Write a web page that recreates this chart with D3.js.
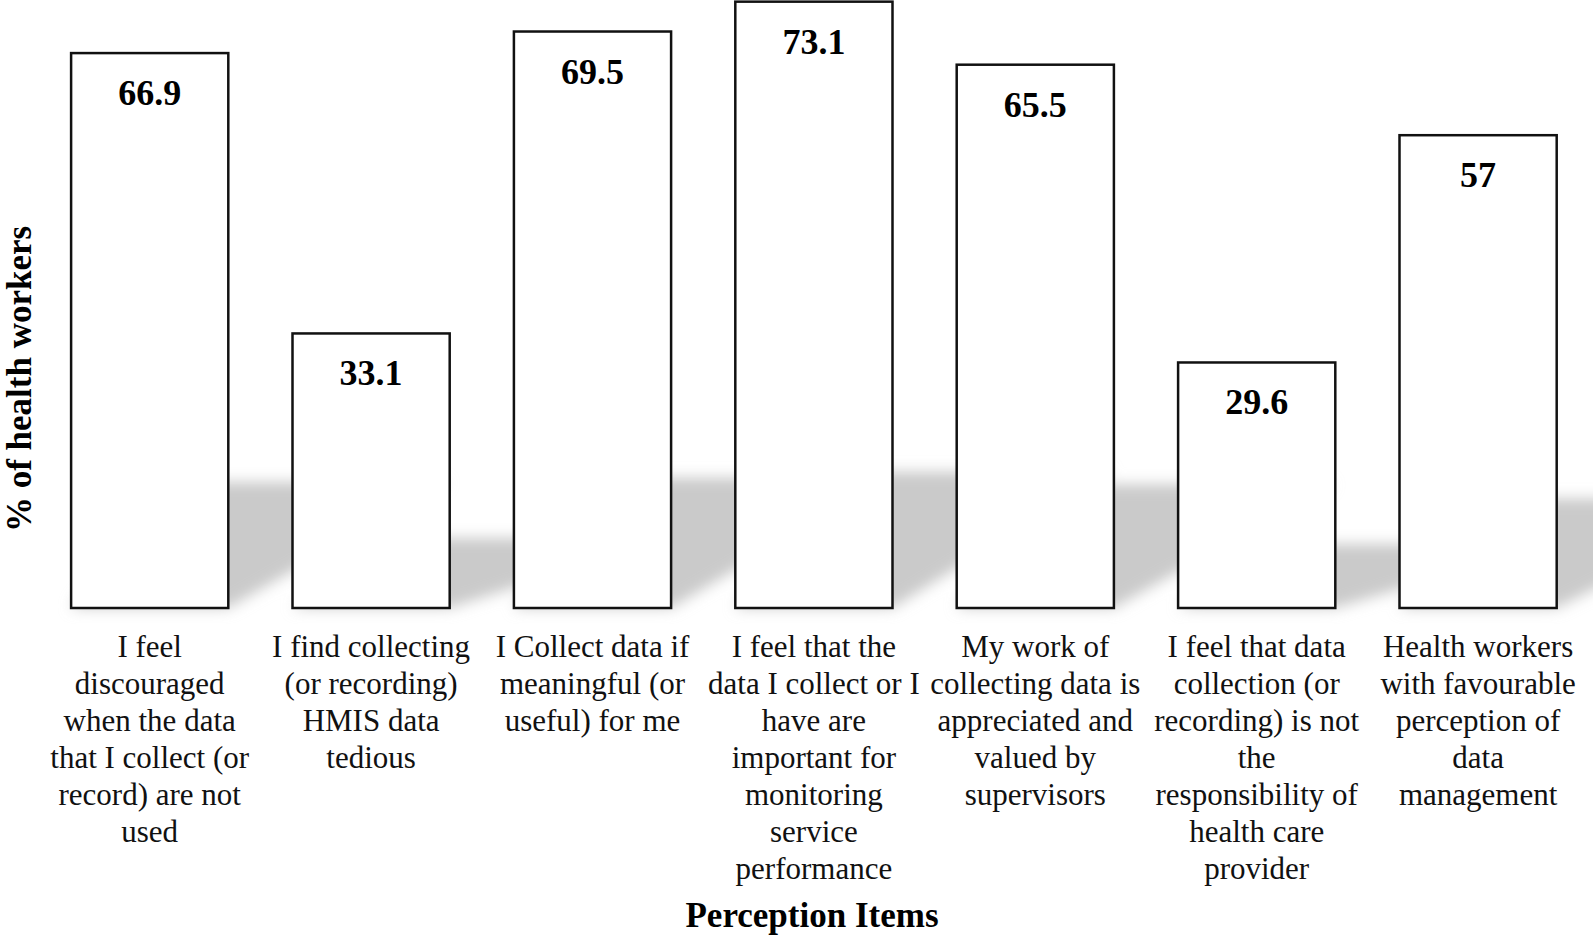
<!DOCTYPE html>
<html>
  <head>
    <meta charset="utf-8">
    <title>Perception of data management</title>
    <script src="https://d3js.org/d3.v7.min.js" charset="utf-8"></script>
    <style>
      body { margin: 0; background: #fff; }
      svg { display: block; font-family: "Liberation Serif", "Times New Roman", serif; }
    </style>
  </head>
  <body>
    <script>
      // chart values
      var items = ["item1", "item2", "item3", "item4", "item5", "item6", "item7"];
      var percents = [66.9, 33.1, 69.5, 73.1, 65.5, 29.6, 57];
      var valueLabels = ["66.9", "33.1", "69.5", "73.1", "65.5", "29.6", "57"];
      var itemLabels = [
        ["I feel", "discouraged", "when the data", "that I collect (or", "record) are not", "used"],
        ["I find collecting", "(or recording)", "HMIS data", "tedious"],
        ["I Collect data if", "meaningful (or", "useful) for me"],
        ["I feel that the", "data I collect or I", "have are", "important for", "monitoring", "service", "performance"],
        ["My work of", "collecting data is", "appreciated and", "valued by", "supervisors"],
        ["I feel that data", "collection (or", "recording) is not", "the", "responsibility of", "health care", "provider"],
        ["Health workers", "with favourable", "perception of", "data", "management"]
      ];
      var xTitle = "Perception Items";
      var yTitle = "% of health workers";

      var width = 1593;
      var height = 942;
      var baseY = 608;

      var svg = d3.select("body")
          .append("svg")
          .attr("width", width)
          .attr("height", height);

      // blur for the floor shadow
      svg.append("defs")
        .append("filter")
        .attr("id", "soft")
        .attr("x", "-20%").attr("y", "-20%")
        .attr("width", "140%").attr("height", "140%")
        .append("feGaussianBlur")
        .attr("stdDeviation", 7);

      var x = d3.scaleBand()
        .domain(items)
        .range([39, 39 + 7 * 221.4])
        .paddingInner(0.29)
        .paddingOuter(0.145);

      var y = d3.scaleLinear()
        .domain([0, 73.3])
        .range([baseY, 0]);

      var data = items.map(function(d, i) {
        return { key: d, value: percents[i], label: valueLabels[i], lines: itemLabels[i] };
      });

      // shadows behind the bars (top edge pushed right, wider than the bar)
      svg.append("g")
        .attr("filter", "url(#soft)")
        .selectAll("path")
        .data(data)
        .enter()
        .append("path")
        .attr("fill", "#cacaca")
        .attr("d", function(d) {
          var x0 = x(d.key), x1 = x(d.key) + x.bandwidth();
          var h = (baseY - y(d.value)) * 0.2 + 15;
          return "M" + x0 + "," + baseY + "L" + x1 + "," + baseY +
            "L" + (x1 + 220) + "," + (baseY - h) +
            "L" + (x0 + 90) + "," + (baseY - h) + "Z";
        });

      var bars = svg.append("g");

      bars.selectAll("rect")
        .data(data)
        .enter()
        .append("rect")
        .attr("x", function(d) { return x(d.key); })
        .attr("y", function(d) { return y(d.value); })
        .attr("width", x.bandwidth())
        .attr("height", function(d) { return baseY - y(d.value); })
        .attr("fill", "#fff")
        .attr("stroke", "#111")
        .attr("stroke-width", 2.5);

      bars.selectAll("text")
        .data(data)
        .enter()
        .append("text")
        .attr("x", function(d) { return x(d.key) + x.bandwidth() / 2; })
        .attr("y", function(d) { return y(d.value) + 52; })
        .attr("text-anchor", "middle")
        .attr("font-size", 36)
        .attr("font-weight", "bold")
        .text(function(d) { return d.label; });

      // category labels under each bar
      var cats = svg.append("g")
        .selectAll("text")
        .data(data)
        .enter()
        .append("text")
        .attr("text-anchor", "middle")
        .attr("font-size", 31)
        .attr("fill", "#111");

      cats.selectAll("tspan")
        .data(function(d) { return d.lines.map(function(l) { return { t: l, cx: x(d.key) + x.bandwidth() / 2 }; }); })
        .enter()
        .append("tspan")
        .attr("x", function(d) { return d.cx; })
        .attr("y", function(d, i) { return 657 + i * 37; })
        .text(function(d) { return d.t; });

      svg.append("text")
        .attr("x", 812)
        .attr("y", 927)
        .attr("text-anchor", "middle")
        .attr("font-size", 35)
        .attr("font-weight", "bold")
        .text(xTitle);

      svg.append("text")
        .attr("transform", "translate(31,379) rotate(-90)")
        .attr("text-anchor", "middle")
        .attr("font-size", 35)
        .attr("font-weight", "bold")
        .text(yTitle);
    </script>
  </body>
</html>
